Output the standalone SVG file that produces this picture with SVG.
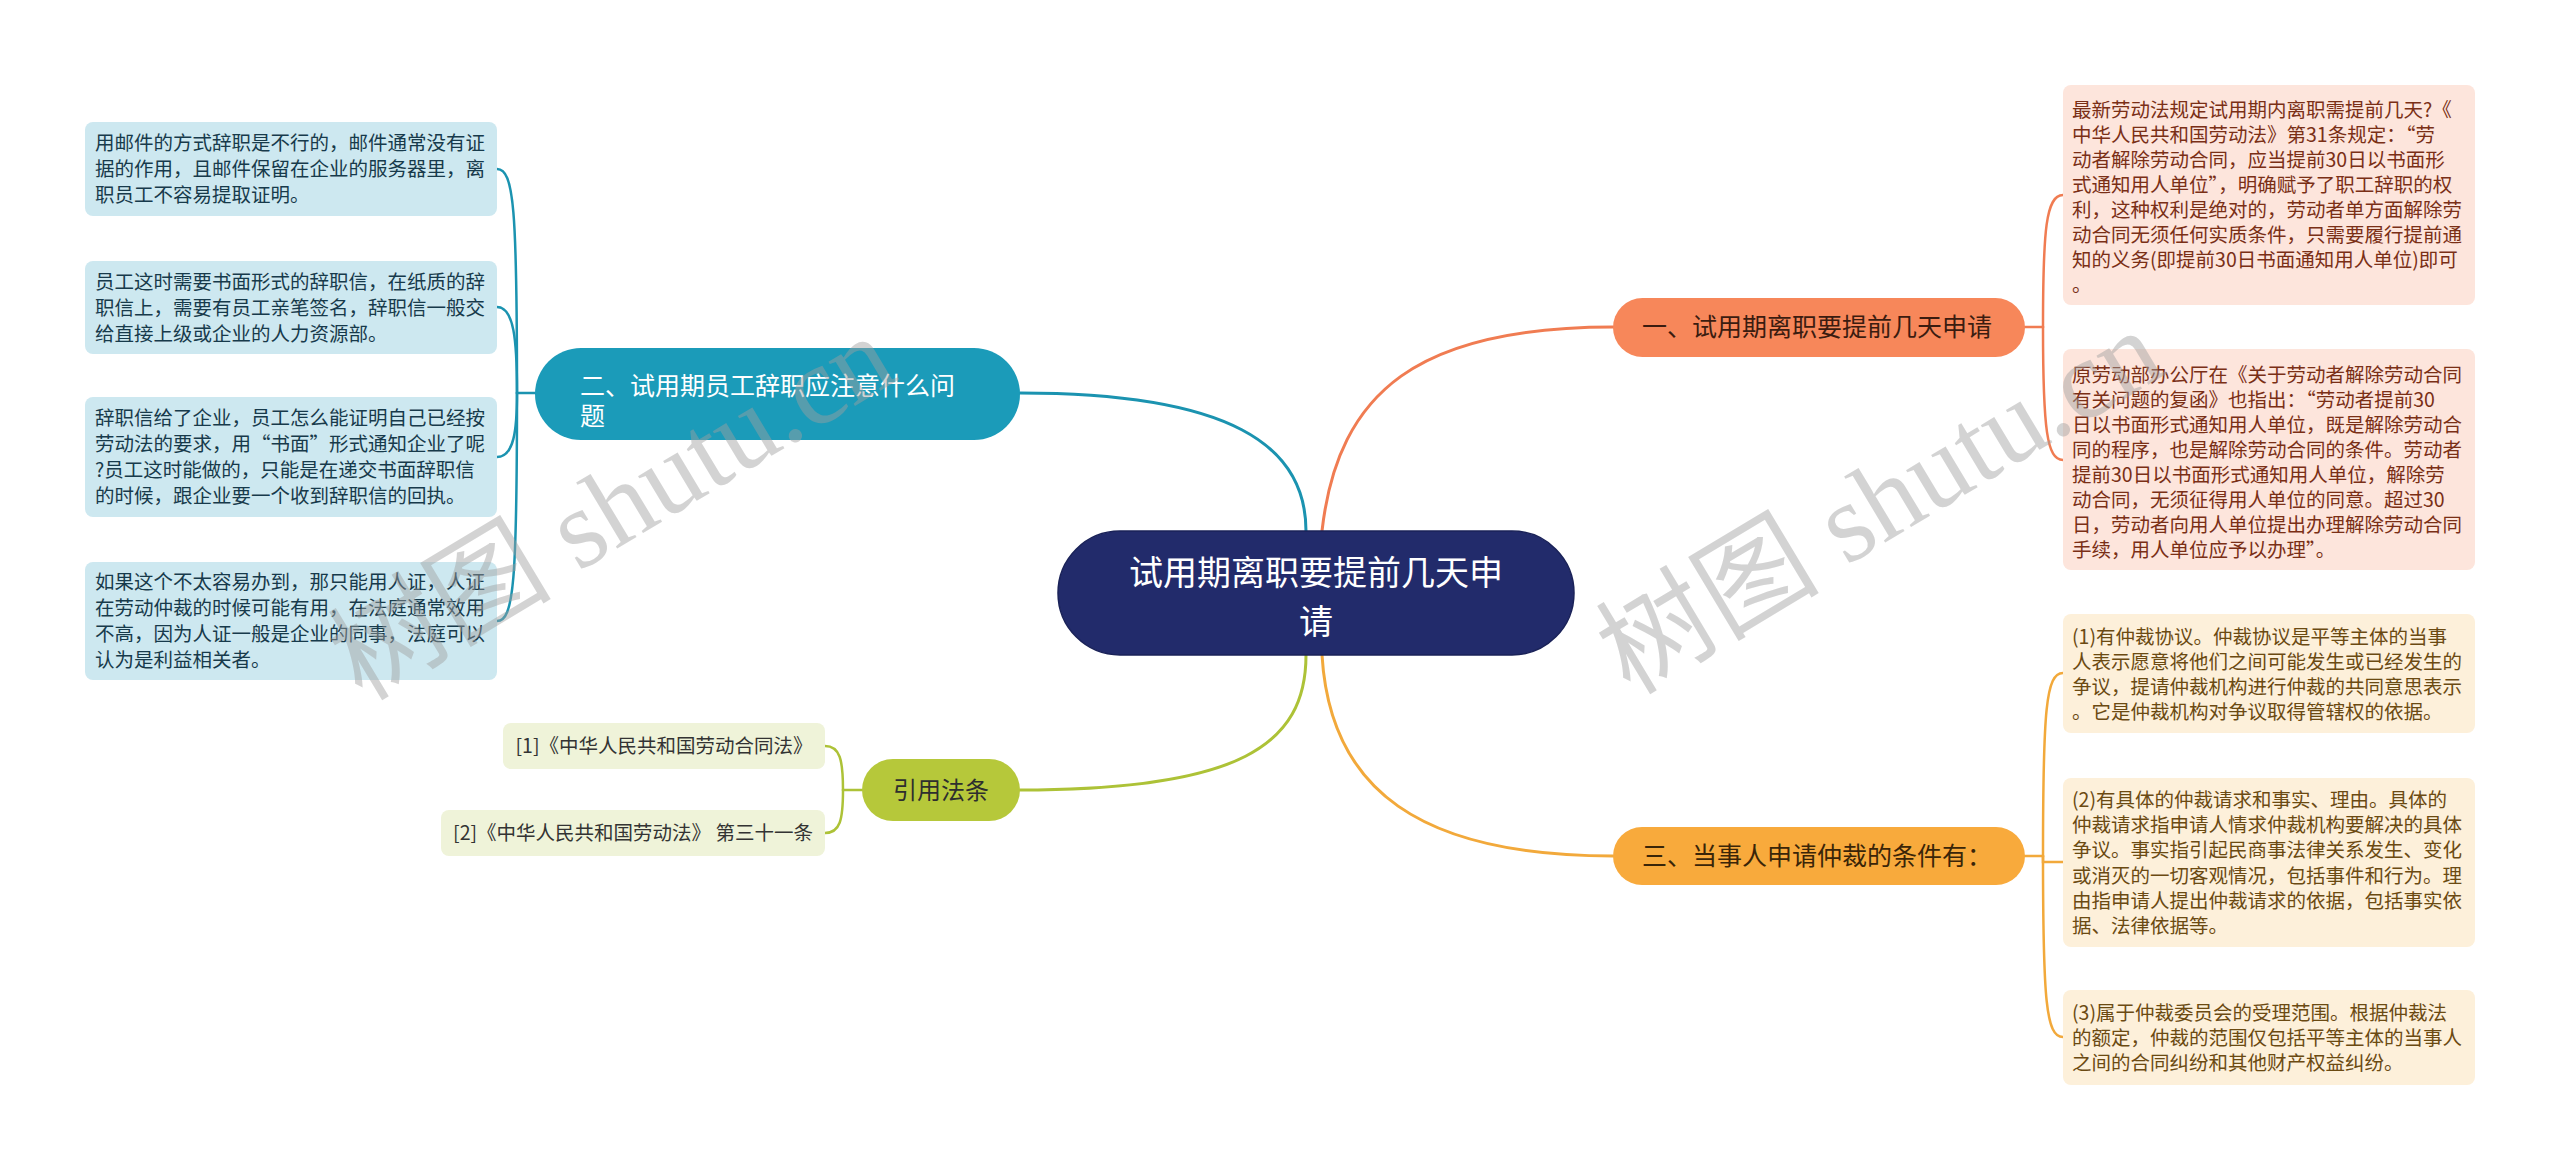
<svg xmlns="http://www.w3.org/2000/svg" width="2560" height="1170" viewBox="0 0 2560 1170">
<style>
text{font-family:"Noto Sans CJK SC","Noto Sans",sans-serif;}
.leaf{font-size:19.5px;}
.lb{fill:#cde8f0;}
.lt{fill:#173a4b;}
.ob{fill:#fde5dc;}
.ot{fill:#7a2f16;}
.yb{fill:#fdf0da;}
.yt{fill:#6b4a12;}
.gb{fill:#eff3d9;}
.gt{fill:#333333;}
.c{fill:none;stroke-linecap:round;}
.wm{font-family:"Liberation Serif","Noto Sans CJK SC",serif;font-size:112px;fill:#a0a0a0;opacity:0.45;}
</style>
<rect width="2560" height="1170" fill="#ffffff"/>
<g id="connectors">
<path class="c" stroke="#1b93b0" stroke-width="3" d="M1306 531 C1306 445 1230 393 1020 393"/>
<path class="c" stroke="#f07c52" stroke-width="3" d="M1322 531 C1338 390 1420 327 1613 327"/>
<path class="c" stroke="#adc237" stroke-width="3" d="M1306 655 C1306 745 1240 790 1020 790"/>
<path class="c" stroke="#f2a93b" stroke-width="3" d="M1322 655 C1330 790 1420 856 1613 856"/>
<g stroke="#f07c52" stroke-width="2.5" class="c">
<path d="M2025 327 L2043 327"/>
<path d="M2043 327 C2043 230 2046 195 2063 195"/>
<path d="M2043 327 C2043 430 2047 460 2063 460"/>
</g>
<g stroke="#f2a93b" stroke-width="2.5" class="c">
<path d="M2025 856 L2043 856"/>
<path d="M2043 856 C2043 710 2046 673 2063 673"/>
<path d="M2043 856 L2043 862 L2063 862"/>
<path d="M2043 856 C2043 1000 2046 1037 2063 1037"/>
</g>
<g stroke="#1b93b0" stroke-width="2.5" class="c">
<path d="M535 393 L517 393"/>
<path d="M517 393 C517 210 514 169 497 169"/>
<path d="M517 393 C517 340 514 307 497 307"/>
<path d="M517 393 C517 430 514 457 497 457"/>
<path d="M517 393 C517 580 514 621 497 621"/>
</g>
<g stroke="#adc237" stroke-width="2.5" class="c">
<path d="M862 790 L843 790"/>
<path d="M843 790 C843 760 840 746 825 746"/>
<path d="M843 790 C843 820 840 833 825 833"/>
</g>
</g>
<g id="root">
<rect x="1058" y="531" width="516" height="124" rx="62" fill="#222b6b" stroke="#1a2258" stroke-width="1.5"/>
<text x="1316" y="585" font-size="34" fill="#ffffff" text-anchor="middle">试用期离职要提前几天申</text>
<text x="1316" y="634" font-size="34" fill="#ffffff" text-anchor="middle">请</text>
</g>
<g id="branch1">
<rect x="1613" y="298" width="412" height="59" rx="29.5" fill="#f7875a"/>
<text x="1642" y="336" font-size="25" fill="#3b1c10">一、试用期离职要提前几天申请</text>
</g>
<g id="leaf1-1">
<rect class="ob" x="2063" y="85" width="412" height="220" rx="8"/>
<text class="leaf ot" x="2072">
<tspan x="2072" y="117">最新劳动法规定试用期内离职需提前几天?《</tspan>
<tspan x="2072" y="142">中华人民共和国劳动法》第31条规定：“劳</tspan>
<tspan x="2072" y="167">动者解除劳动合同，应当提前30日以书面形</tspan>
<tspan x="2072" y="192">式通知用人单位”，明确赋予了职工辞职的权</tspan>
<tspan x="2072" y="217">利，这种权利是绝对的，劳动者单方面解除劳</tspan>
<tspan x="2072" y="242">动合同无须任何实质条件，只需要履行提前通</tspan>
<tspan x="2072" y="267">知的义务(即提前30日书面通知用人单位)即可</tspan>
<tspan x="2072" y="292">。</tspan>
</text>
</g>
<g id="leaf1-2">
<rect class="ob" x="2063" y="349" width="412" height="221" rx="8"/>
<text class="leaf ot">
<tspan x="2072" y="382">原劳动部办公厅在《关于劳动者解除劳动合同</tspan>
<tspan x="2072" y="407">有关问题的复函》也指出：“劳动者提前30</tspan>
<tspan x="2072" y="432">日以书面形式通知用人单位，既是解除劳动合</tspan>
<tspan x="2072" y="457">同的程序，也是解除劳动合同的条件。劳动者</tspan>
<tspan x="2072" y="482">提前30日以书面形式通知用人单位，解除劳</tspan>
<tspan x="2072" y="507">动合同，无须征得用人单位的同意。超过30</tspan>
<tspan x="2072" y="532">日，劳动者向用人单位提出办理解除劳动合同</tspan>
<tspan x="2072" y="557">手续，用人单位应予以办理”。</tspan>
</text>
</g>
<g id="branch3">
<rect x="1613" y="827" width="412" height="58" rx="29" fill="#f8aa3c"/>
<text x="1642" y="865" font-size="25" fill="#3a2508">三、当事人申请仲裁的条件有：</text>
</g>
<g id="leaf3-1">
<rect class="yb" x="2063" y="614" width="412" height="119" rx="8"/>
<text class="leaf yt">
<tspan x="2072" y="644">(1)有仲裁协议。仲裁协议是平等主体的当事</tspan>
<tspan x="2072" y="669">人表示愿意将他们之间可能发生或已经发生的</tspan>
<tspan x="2072" y="694">争议，提请仲裁机构进行仲裁的共同意思表示</tspan>
<tspan x="2072" y="719">。它是仲裁机构对争议取得管辖权的依据。</tspan>
</text>
</g>
<g id="leaf3-2">
<rect class="yb" x="2063" y="778" width="412" height="169" rx="8"/>
<text class="leaf yt">
<tspan x="2072" y="807">(2)有具体的仲裁请求和事实、理由。具体的</tspan>
<tspan x="2072" y="832">仲裁请求指申请人情求仲裁机构要解决的具体</tspan>
<tspan x="2072" y="857">争议。事实指引起民商事法律关系发生、变化</tspan>
<tspan x="2072" y="883">或消灭的一切客观情况，包括事件和行为。理</tspan>
<tspan x="2072" y="908">由指申请人提出仲裁请求的依据，包括事实依</tspan>
<tspan x="2072" y="933">据、法律依据等。</tspan>
</text>
</g>
<g id="leaf3-3">
<rect class="yb" x="2063" y="990" width="412" height="95" rx="8"/>
<text class="leaf yt">
<tspan x="2072" y="1020">(3)属于仲裁委员会的受理范围。根据仲裁法</tspan>
<tspan x="2072" y="1045">的额定，仲裁的范围仅包括平等主体的当事人</tspan>
<tspan x="2072" y="1070">之间的合同纠纷和其他财产权益纠纷。</tspan>
</text>
</g>
<g id="branch2">
<rect x="535" y="348" width="485" height="92" rx="46" fill="#1b9bb9"/>
<text x="580" y="395" font-size="25" fill="#ffffff">二、试用期员工辞职应注意什么问</text>
<text x="580" y="425" font-size="25" fill="#ffffff">题</text>
</g>
<g id="leaf2-1">
<rect class="lb" x="85" y="122" width="412" height="94" rx="8"/>
<text class="leaf lt">
<tspan x="95" y="150">用邮件的方式辞职是不行的，邮件通常没有证</tspan>
<tspan x="95" y="176">据的作用，且邮件保留在企业的服务器里，离</tspan>
<tspan x="95" y="202">职员工不容易提取证明。</tspan>
</text>
</g>
<g id="leaf2-2">
<rect class="lb" x="85" y="261" width="412" height="93" rx="8"/>
<text class="leaf lt">
<tspan x="95" y="289">员工这时需要书面形式的辞职信，在纸质的辞</tspan>
<tspan x="95" y="315">职信上，需要有员工亲笔签名，辞职信一般交</tspan>
<tspan x="95" y="341">给直接上级或企业的人力资源部。</tspan>
</text>
</g>
<g id="leaf2-3">
<rect class="lb" x="85" y="397" width="412" height="120" rx="8"/>
<text class="leaf lt">
<tspan x="95" y="425">辞职信给了企业，员工怎么能证明自己已经按</tspan>
<tspan x="95" y="451">劳动法的要求，用“书面”形式通知企业了呢</tspan>
<tspan x="95" y="477">?员工这时能做的，只能是在递交书面辞职信</tspan>
<tspan x="95" y="503">的时候，跟企业要一个收到辞职信的回执。</tspan>
</text>
</g>
<g id="leaf2-4">
<rect class="lb" x="85" y="562" width="412" height="118" rx="8"/>
<text class="leaf lt">
<tspan x="95" y="589">如果这个不太容易办到，那只能用人证，人证</tspan>
<tspan x="95" y="615">在劳动仲裁的时候可能有用，在法庭通常效用</tspan>
<tspan x="95" y="641">不高，因为人证一般是企业的同事，法庭可以</tspan>
<tspan x="95" y="667">认为是利益相关者。</tspan>
</text>
</g>
<g id="branch4">
<rect x="862" y="759" width="158" height="62" rx="31" fill="#b6c83a"/>
<text x="941" y="799" font-size="24" fill="#2e2e2e" text-anchor="middle">引用法条</text>
</g>
<g id="leaf4-1">
<rect class="gb" x="503" y="723" width="322" height="46" rx="8"/>
<text class="leaf gt" x="664" y="753" text-anchor="middle">[1]《中华人民共和国劳动合同法》</text>
</g>
<g id="leaf4-2">
<rect class="gb" x="441" y="810" width="384" height="46" rx="8"/>
<text class="leaf gt" x="633" y="840" text-anchor="middle">[2]《中华人民共和国劳动法》 第三十一条</text>
</g>
<g id="watermark">
<text class="wm" x="0" y="0" transform="translate(362,702) rotate(-31)">树图 shutu.cn</text>
<text class="wm" x="0" y="0" transform="translate(1630,696) rotate(-31)">树图 shutu.cn</text>
</g>
</svg>
